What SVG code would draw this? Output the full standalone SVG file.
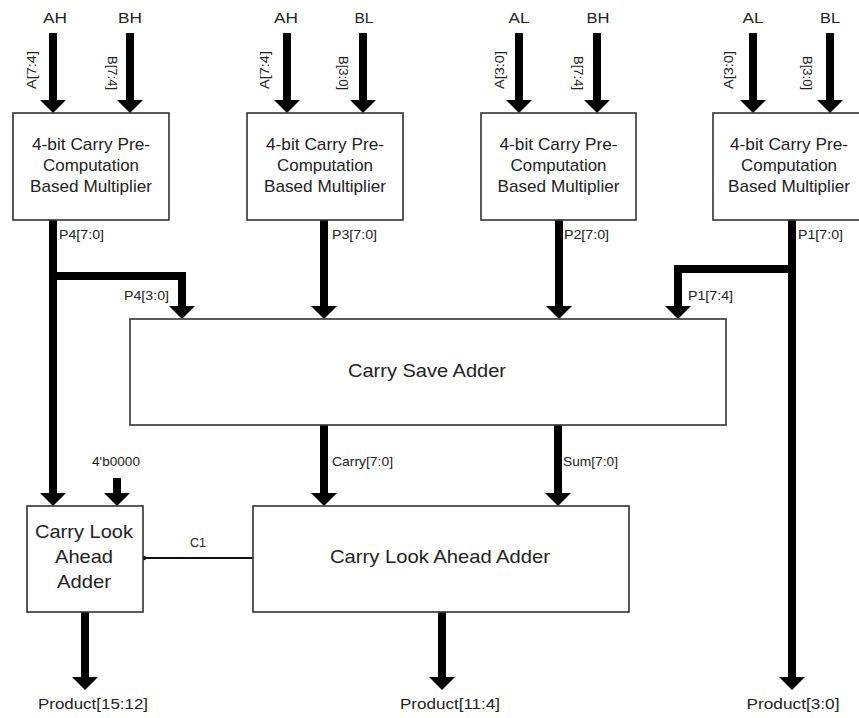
<svg xmlns="http://www.w3.org/2000/svg" width="859" height="718" viewBox="0 0 859 718">
  <defs>
    <marker id="head" markerUnits="userSpaceOnUse" viewBox="0 0 14 26" markerWidth="14" markerHeight="26" refX="1" refY="13" orient="auto">
      <path d="M0,0 L13,13 L0,26 Z" fill="#000"/>
    </marker>
    <marker id="dot" markerUnits="userSpaceOnUse" viewBox="0 0 6 6" markerWidth="6" markerHeight="6" refX="3" refY="3" orient="auto">
      <circle cx="3" cy="3" r="2.2" fill="#111"/>
    </marker>
  </defs>
  <style>
    .box { fill: #fff; stroke: #333; stroke-width: 1.6; }
    .bus { fill: none; stroke: #000; stroke-width: 8; stroke-linejoin: miter; marker-end: url(#head); }
    .wire { fill: none; stroke: #111; stroke-width: 2.2; }
    text { font-family: "Liberation Sans", Arial, sans-serif; fill: #222; }
    .big { font-size: 17px; text-anchor: middle; lengthAdjust: spacingAndGlyphs; }
    .huge { font-size: 19px; text-anchor: middle; }
    .inp { font-size: 14px; text-anchor: middle; }
    .lbl { font-size: 13px; }
    .rot { font-size: 12px; text-anchor: middle; }
    .prod { font-size: 15px; text-anchor: middle; }
  </style>
  <rect width="859" height="718" fill="#fff"/>

  <g id="connectors">
    <!-- inputs -->
    <line class="bus" x1="53" y1="33" x2="53" y2="101"/>
    <line class="bus" x1="130" y1="33" x2="130" y2="101"/>
    <line class="bus" x1="287" y1="33" x2="287" y2="101"/>
    <line class="bus" x1="363" y1="33" x2="363" y2="101"/>
    <line class="bus" x1="519" y1="33" x2="519" y2="101"/>
    <line class="bus" x1="597" y1="33" x2="597" y2="101"/>
    <line class="bus" x1="753" y1="33" x2="753" y2="101"/>
    <line class="bus" x1="830" y1="33" x2="830" y2="101"/>
    <!-- multiplier outputs -->
    <line class="bus" x1="53" y1="220" x2="53" y2="494"/>
    <path class="bus" d="M49,276 H182 V307"/>
    <line class="bus" x1="324" y1="220" x2="324" y2="307"/>
    <line class="bus" x1="559" y1="220" x2="559" y2="307"/>
    <line class="bus" x1="792" y1="220" x2="792" y2="678"/>
    <path class="bus" d="M796,269 H678 V307"/>
    <!-- CSA outputs -->
    <line class="bus" x1="324" y1="425" x2="324" y2="494"/>
    <line class="bus" x1="558" y1="425" x2="558" y2="494"/>
    <line class="bus" x1="117" y1="478" x2="117" y2="494"/>
    <!-- products -->
    <line class="bus" x1="85" y1="612" x2="85" y2="678"/>
    <line class="bus" x1="442" y1="612" x2="442" y2="678"/>
    <!-- carry C1 -->
    <line class="wire" x1="253" y1="558" x2="144" y2="558" marker-end="url(#dot)"/>

    <text class="inp" x="55" y="23" textLength="24" lengthAdjust="spacingAndGlyphs">AH</text>
    <text class="inp" x="130" y="23" textLength="24" lengthAdjust="spacingAndGlyphs">BH</text>
    <text class="inp" x="286" y="23" textLength="24" lengthAdjust="spacingAndGlyphs">AH</text>
    <text class="inp" x="364" y="23" textLength="19" lengthAdjust="spacingAndGlyphs">BL</text>
    <text class="inp" x="519" y="23" textLength="21" lengthAdjust="spacingAndGlyphs">AL</text>
    <text class="inp" x="598" y="23" textLength="23" lengthAdjust="spacingAndGlyphs">BH</text>
    <text class="inp" x="753" y="23" textLength="21" lengthAdjust="spacingAndGlyphs">AL</text>
    <text class="inp" x="830" y="23" textLength="20" lengthAdjust="spacingAndGlyphs">BL</text>

    <text class="rot" transform="translate(32,70) rotate(-90)" x="0" y="4.3" textLength="38" lengthAdjust="spacingAndGlyphs">A[7:4]</text>
    <text class="rot" transform="translate(112,73) rotate(90)" x="0" y="4.3" textLength="34" lengthAdjust="spacingAndGlyphs">B[7:4]</text>
    <text class="rot" transform="translate(265,70) rotate(-90)" x="0" y="4.3" textLength="38" lengthAdjust="spacingAndGlyphs">A[7:4]</text>
    <text class="rot" transform="translate(343,73) rotate(90)" x="0" y="4.3" textLength="34" lengthAdjust="spacingAndGlyphs">B[3:0]</text>
    <text class="rot" transform="translate(500,70) rotate(-90)" x="0" y="4.3" textLength="38" lengthAdjust="spacingAndGlyphs">A[3:0]</text>
    <text class="rot" transform="translate(578,73) rotate(90)" x="0" y="4.3" textLength="34" lengthAdjust="spacingAndGlyphs">B[7:4]</text>
    <text class="rot" transform="translate(729,70) rotate(-90)" x="0" y="4.3" textLength="38" lengthAdjust="spacingAndGlyphs">A[3:0]</text>
    <text class="rot" transform="translate(807,73) rotate(90)" x="0" y="4.3" textLength="34" lengthAdjust="spacingAndGlyphs">B[3:0]</text>

    <text class="lbl" x="59" y="239" textLength="45" lengthAdjust="spacingAndGlyphs">P4[7:0]</text>
    <text class="lbl" x="124" y="300" textLength="45" lengthAdjust="spacingAndGlyphs">P4[3:0]</text>
    <text class="lbl" x="332" y="239" textLength="45" lengthAdjust="spacingAndGlyphs">P3[7:0]</text>
    <text class="lbl" x="564" y="239" textLength="45" lengthAdjust="spacingAndGlyphs">P2[7:0]</text>
    <text class="lbl" x="798" y="239" textLength="45" lengthAdjust="spacingAndGlyphs">P1[7:0]</text>
    <text class="lbl" x="688" y="300" textLength="45" lengthAdjust="spacingAndGlyphs">P1[7:4]</text>
    <text class="lbl" x="332" y="466" textLength="61" lengthAdjust="spacingAndGlyphs">Carry[7:0]</text>
    <text class="lbl" x="563" y="466" textLength="55" lengthAdjust="spacingAndGlyphs">Sum[7:0]</text>
    <text class="lbl" x="92" y="466" textLength="48" lengthAdjust="spacingAndGlyphs">4'b0000</text>
    <text class="lbl" x="190" y="547" textLength="16" lengthAdjust="spacingAndGlyphs">C1</text>
    <text class="prod" x="93" y="709" textLength="110" lengthAdjust="spacingAndGlyphs">Product[15:12]</text>
    <text class="prod" x="450" y="709" textLength="100" lengthAdjust="spacingAndGlyphs">Product[11:4]</text>
    <text class="prod" x="793" y="709" textLength="93" lengthAdjust="spacingAndGlyphs">Product[3:0]</text>
  </g>

  <g id="mult4">
    <rect class="box" x="13" y="113" width="156" height="107"/>
    <text class="big" x="91" y="150" textLength="118" lengthAdjust="spacingAndGlyphs">4-bit Carry Pre-</text>
    <text class="big" x="91" y="171" textLength="96" lengthAdjust="spacingAndGlyphs">Computation</text>
    <text class="big" x="91" y="192" textLength="122" lengthAdjust="spacingAndGlyphs">Based Multiplier</text>
  </g>
  <g id="mult3">
    <rect class="box" x="247" y="113" width="156" height="107"/>
    <text class="big" x="325" y="150" textLength="118" lengthAdjust="spacingAndGlyphs">4-bit Carry Pre-</text>
    <text class="big" x="325" y="171" textLength="96" lengthAdjust="spacingAndGlyphs">Computation</text>
    <text class="big" x="325" y="192" textLength="122" lengthAdjust="spacingAndGlyphs">Based Multiplier</text>
  </g>
  <g id="mult2">
    <rect class="box" x="481" y="113" width="155" height="107"/>
    <text class="big" x="558.5" y="150" textLength="118" lengthAdjust="spacingAndGlyphs">4-bit Carry Pre-</text>
    <text class="big" x="558.5" y="171" textLength="96" lengthAdjust="spacingAndGlyphs">Computation</text>
    <text class="big" x="558.5" y="192" textLength="122" lengthAdjust="spacingAndGlyphs">Based Multiplier</text>
  </g>
  <g id="mult1">
    <rect class="box" x="713" y="113" width="156" height="107"/>
    <text class="big" x="789" y="150" textLength="118" lengthAdjust="spacingAndGlyphs">4-bit Carry Pre-</text>
    <text class="big" x="789" y="171" textLength="96" lengthAdjust="spacingAndGlyphs">Computation</text>
    <text class="big" x="789" y="192" textLength="122" lengthAdjust="spacingAndGlyphs">Based Multiplier</text>
  </g>
  <g id="csa">
    <rect class="box" x="130" y="319" width="596" height="106"/>
    <text class="huge" x="427" y="377" textLength="158" lengthAdjust="spacingAndGlyphs">Carry Save Adder</text>
  </g>
  <g id="cla-small">
    <rect class="box" x="27" y="506" width="116" height="106"/>
    <text class="huge" x="84" y="538" textLength="98" lengthAdjust="spacingAndGlyphs">Carry Look</text>
    <text class="huge" x="84" y="563" textLength="58" lengthAdjust="spacingAndGlyphs">Ahead</text>
    <text class="huge" x="84" y="588" textLength="54" lengthAdjust="spacingAndGlyphs">Adder</text>
  </g>
  <g id="cla-big">
    <rect class="box" x="253" y="506" width="376" height="106"/>
    <text class="huge" x="440" y="563" textLength="220" lengthAdjust="spacingAndGlyphs">Carry Look Ahead Adder</text>
  </g>
</svg>
